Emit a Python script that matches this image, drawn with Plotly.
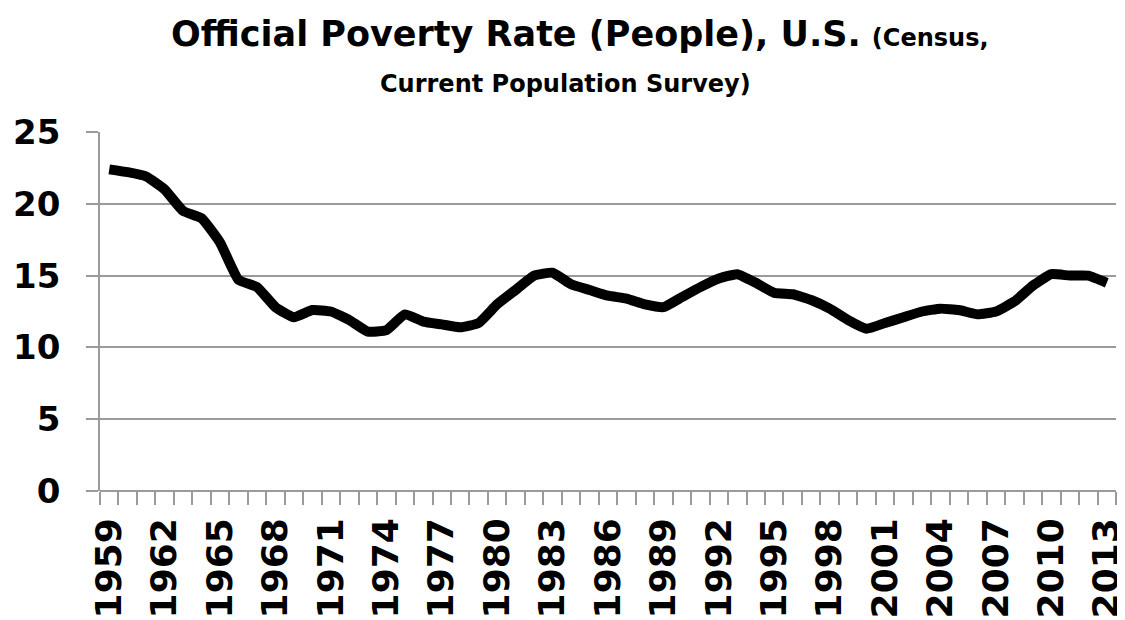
import plotly.graph_objects as go

years = list(range(1959, 2014))
poverty_rate = [22.4, 22.2, 21.9, 21.0, 19.5, 19.0, 17.3, 14.7, 14.2, 12.8,
                12.1, 12.6, 12.5, 11.9, 11.1, 11.2, 12.3, 11.8, 11.6, 11.4,
                11.7, 13.0, 14.0, 15.0, 15.2, 14.4, 14.0, 13.6, 13.4, 13.0,
                12.8, 13.5, 14.2, 14.8, 15.1, 14.5, 13.8, 13.7, 13.3, 12.7,
                11.9, 11.3, 11.7, 12.1, 12.5, 12.7, 12.6, 12.3, 12.5, 13.2,
                14.3, 15.1, 15.0, 15.0, 14.5]
label_years = list(range(1959, 2014, 3))
y_ticks = [0, 5, 10, 15, 20, 25]

FONT = "DejaVu Sans"
GRID = "#9a9a9a"

fig = go.Figure()
fig.add_trace(go.Scatter(
    x=years, y=poverty_rate, mode="lines",
    line=dict(color="black", width=10, shape="spline", smoothing=0.4),
    hoverinfo="x+y", showlegend=False,
))

# page body has an 8px default margin, so the figure is sized to end at the window edge
fig.update_layout(
    width=1117, height=612,
    margin=dict(l=92, r=9, t=124, b=129),
    paper_bgcolor="white", plot_bgcolor="white",
    font=dict(family=FONT, color="black"),
    showlegend=False,
)

fig.update_xaxes(
    range=[1958.5, 2013.5], automargin=False,
    tickmode="array", tickvals=label_years, ticktext=[str(y) for y in label_years],
    ticks="", tickangle=-90, ticklabeloverflow="allow",
    tickfont=dict(family=FONT, size=36, color="black", weight="bold"),
    showgrid=False, zeroline=False,
    showline=False,
    ticklabelstandoff=19,
    minor=dict(ticks="outside", ticklen=13, tickcolor=GRID, tickwidth=1.5,
               tick0=1958.5, dtick=1, showgrid=False),
)

fig.update_yaxes(
    range=[0, 25], tickmode="array", tickvals=y_ticks, automargin=False,
    ticks="outside", ticklen=12, tickcolor=GRID, tickwidth=1.5,
    tickfont=dict(family=FONT, size=34, color="black", weight="bold"),
    showgrid=True, gridcolor=GRID, gridwidth=1.5,
    zeroline=True, zerolinecolor=GRID, zerolinewidth=1.5,
    showline=True, linecolor=GRID, linewidth=1.5,
    ticklabelstandoff=19,
)

fig.add_annotation(
    x=0.472, y=1.0, xref="paper", yref="paper", xanchor="center", yanchor="bottom",
    yshift=76, showarrow=False,
    text="<b>Official Poverty Rate (People), U.S.</b> <b><span style='font-size:24px'>(Census,</span></b>",
    font=dict(family=FONT, size=35, color="black"),
)
fig.add_annotation(
    x=0.458, y=1.0, xref="paper", yref="paper", xanchor="center", yanchor="bottom",
    yshift=32, showarrow=False,
    text="<b>Current Population Survey)</b>",
    font=dict(family=FONT, size=24, color="black"),
)

fig.write_html("out.html")
